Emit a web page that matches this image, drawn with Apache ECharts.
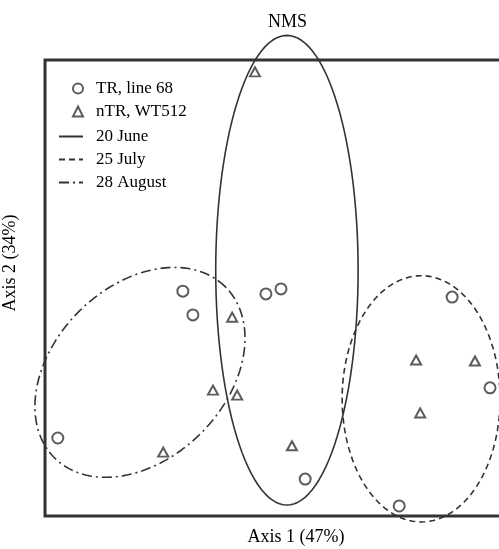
<!DOCTYPE html>
<html>
<head>
<meta charset="utf-8">
<script src="https://cdn.jsdelivr.net/npm/echarts@6/dist/echarts.min.js"></script>
<style>
  html, body { margin: 0; padding: 0; background: #fff; }
  #chart { width: 499px; height: 549px; }
</style>
</head>
<body>
<div id="chart"></div>
<script>
// NMS scores (arbitrary ordination units)
const trPoints = [
  [30.2, 49.3], [32.4, 44.1], [48.4, 48.7], [51.7, 49.8], [2.8, 17.1],
  [57.0, 8.1], [89.2, 48.0], [97.5, 28.1], [77.6, 2.2]
];
const ntrPoints = [
  [46.0, 97.4], [41.0, 43.6], [36.8, 27.6], [42.1, 26.5], [25.9, 14.0],
  [54.1, 15.4], [81.3, 34.2], [94.2, 34.0], [82.2, 22.6]
];
// ellipses per sampling date: [centerX, centerY, radiusX, radiusY, angleDeg]
const dates = ["20 June", "25 July", "28 August"];
const ellipses = [
  [53.0, 53.9, 15.6, 51.5, 0],
  [82.4, 25.7, 17.3, 27.0, 0],
  [20.8, 31.5, 26.5, 18.9, 45]
];
const lineTypes = ["solid", [6, 4], [10, 4, 2, 4]];
// plot frame in data units
const frame = [[0, 0], [110, 100]];

function outline(e) {
  const [cx, cy, rx, ry, deg] = e;
  const r = deg * Math.PI / 180;
  const pts = [];
  for (let i = 0; i <= 120; i++) {
    const t = i / 120 * Math.PI * 2;
    const x = rx * Math.cos(t), y = ry * Math.sin(t);
    pts.push([cx + x * Math.cos(r) - y * Math.sin(r), cy + x * Math.sin(r) + y * Math.cos(r)]);
  }
  return pts;
}

const chart = echarts.init(document.getElementById("chart"));
const font = "Liberation Serif";
const ink = "#333";
const legendText = { fontFamily: font, fontSize: 17, color: "#000", padding: [0, 0, 0, 8] };

const option = {
  animation: false,
  title: {
    text: "NMS",
    left: 263,
    top: 8,
    textStyle: { fontFamily: font, fontSize: 18, fontWeight: "normal", color: "#000" }
  },
  legend: [
    {
      orient: "vertical",
      left: 67,
      top: 75,
      itemGap: 6,
      itemWidth: 10,
      itemHeight: 10,
      textStyle: legendText,
      data: ["TR, line 68", "nTR, WT512"]
    },
    {
      orient: "vertical",
      left: 53,
      top: 123,
      itemGap: 6,
      itemWidth: 24,
      itemHeight: 10,
      textStyle: legendText,
      data: dates.map((d) => ({ name: d, itemStyle: { opacity: 0 } }))
    }
  ],
  grid: {
    left: 22.2, top: 60, width: 547.7, height: 456,
    outerBoundsMode: "none"
  },
  xAxis: {
    type: "value", min: -5, max: 115,
    name: "Axis 1 (47%)", nameLocation: "middle", nameGap: 12,
    nameTextStyle: { fontFamily: font, fontSize: 18, color: "#000" },
    axisLine: { show: false }, axisTick: { show: false },
    axisLabel: { show: false }, splitLine: { show: false }
  },
  yAxis: {
    type: "value", min: 0, max: 100,
    name: "Axis 2 (34%)", nameLocation: "middle", nameGap: 3,
    nameTextStyle: { fontFamily: font, fontSize: 18, color: "#000", padding: [0, 0, 0, 50] },
    axisLine: { show: false }, axisTick: { show: false },
    axisLabel: { show: false }, splitLine: { show: false }
  },
  series: [
    ...dates.map((d, i) => ({
      name: d,
      type: "line",
      data: outline(ellipses[i]),
      showSymbol: false,
      symbol: "none",
      clip: false,
      lineStyle: { color: ink, width: 1.6, type: lineTypes[i] },
      itemStyle: { color: ink },
      markArea: i === 0 ? {
        silent: true,
        itemStyle: { color: "transparent", borderColor: ink, borderWidth: 3 },
        data: [[{ coord: frame[0] }, { coord: frame[1] }]]
      } : undefined
    })),
    {
      name: "TR, line 68",
      type: "scatter",
      data: trPoints,
      symbol: "circle",
      symbolSize: 11,
      itemStyle: { color: "#fff", borderColor: "#333", borderWidth: 2 }
    },
    {
      name: "nTR, WT512",
      type: "scatter",
      data: ntrPoints,
      symbol: "triangle",
      symbolSize: [10, 9],
      itemStyle: { color: "#fff", borderColor: "#333", borderWidth: 2 }
    }
  ]
};
chart.setOption(option);
</script>
</body>
</html>
